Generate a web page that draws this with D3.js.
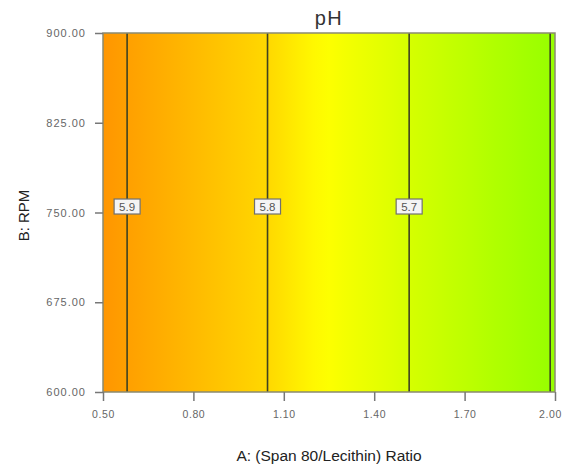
<!DOCTYPE html>
<html>
<head>
<meta charset="utf-8">
<script src="https://cdn.jsdelivr.net/npm/d3@7"></script>
<style>
  html, body { margin: 0; padding: 0; background: #fff; }
  svg { display: block; font-family: "Liberation Sans", Arial, sans-serif; }
</style>
</head>
<body>
<svg id="chart" width="566" height="469"></svg>
<script>
// Response surface contour of pH over ratio (A) and stirring speed (B)
const xTicks = [0.50, 0.80, 1.10, 1.40, 1.70, 2.00];
const yTicks = [600, 675, 750, 825, 900];
const contourLevels = [5.9, 5.8, 5.7, 5.6];
const contourA = [0.58, 1.046, 1.516, 1.984];
const labelled = [true, true, true, false];
const labelB = 755;
const colourLevels = [5.6, 5.7, 5.76, 5.8, 5.92];
const colourRange = ["#98ff00", "#d6ff00", "#ffff00", "#ffd800", "#ff9400"];

const W = 566, H = 469;
const m = { left: 103, right: 11, top: 33, bottom: 77 };
const svg = d3.select("#chart");

const x = d3.scaleLinear().domain([0.5, 2.0]).range([m.left, W - m.right]);
const y = d3.scaleLinear().domain([600, 900]).range([H - m.bottom, m.top]);
const pHatA = d3.scaleLinear().domain(contourA).range(contourLevels); // linear in A
const colour = d3.scaleLinear().domain(colourLevels).range(colourRange);

// horizontal colour gradient following the response
const defs = svg.append("defs");
const grad = defs.append("linearGradient")
  .attr("id", "phFill").attr("gradientUnits", "userSpaceOnUse")
  .attr("x1", x(0.5)).attr("x2", x(2.0)).attr("y1", 0).attr("y2", 0);
d3.range(0, 31).forEach(i => {
  const a = 0.5 + i * 0.05;
  grad.append("stop")
    .attr("offset", (i / 30))
    .attr("stop-color", colour(pHatA(a)));
});
defs.append("clipPath").attr("id", "plotClip")
  .append("rect")
  .attr("x", x(0.5)).attr("y", y(900))
  .attr("width", x(2.0) - x(0.5)).attr("height", y(600) - y(900));

svg.append("rect")
  .attr("x", x(0.5)).attr("y", y(900))
  .attr("width", x(2.0) - x(0.5)).attr("height", y(600) - y(900))
  .attr("fill", "url(#phFill)");

// contour lines
const plot = svg.append("g").attr("clip-path", "url(#plotClip)");
plot.selectAll("line.contour")
  .data(contourA)
  .join("line")
  .attr("class", "contour")
  .attr("x1", d => x(d)).attr("x2", d => x(d))
  .attr("y1", y(900)).attr("y2", y(600))
  .attr("stroke", "#3f4220").attr("stroke-width", 1.6);

// contour labels
const lab = plot.selectAll("g.lab")
  .data(contourLevels.map((v, i) => ({ v, a: contourA[i] })).filter((d, i) => labelled[i]))
  .join("g")
  .attr("class", "lab")
  .attr("transform", d => `translate(${x(d.a)},${y(labelB)})`);
lab.append("rect")
  .attr("x", -13).attr("y", -7.5).attr("width", 26).attr("height", 15)
  .attr("fill", "#f4f4f4").attr("stroke", "#707070").attr("stroke-width", 1.2);
lab.append("text")
  .attr("text-anchor", "middle").attr("dy", "0.36em")
  .attr("font-size", 11.5).attr("fill", "#555")
  .text(d => d.v.toFixed(1));

// plot frame
svg.append("rect")
  .attr("x", x(0.5)).attr("y", y(900))
  .attr("width", x(2.0) - x(0.5)).attr("height", y(600) - y(900))
  .attr("fill", "none").attr("stroke", "#8a8a70").attr("stroke-width", 1.5);

// axes
const xAxis = d3.axisBottom(x).tickValues(xTicks).tickFormat(d3.format(".2f"))
  .tickSize(9).tickSizeOuter(0);
const gx = svg.append("g").attr("transform", `translate(0,${y(600)})`).call(xAxis);
gx.select(".domain").remove();
gx.selectAll(".tick line").attr("stroke", "#777").attr("stroke-width", 1.5);
gx.selectAll(".tick text").attr("font-size", 10.5).attr("fill", "#666").attr("dy", "1.3em")
  .attr("letter-spacing", 0.6)
  .attr("font-family", "\"Liberation Sans\", Arial, sans-serif");
// keep the last tick label inside the window
gx.selectAll(".tick text").filter(d => d === d3.max(xTicks)).attr("dx", -5);

const yAxis = d3.axisLeft(y).tickValues(yTicks).tickFormat(d3.format(".2f"))
  .tickSize(8).tickSizeOuter(0);
const gy = svg.append("g").attr("transform", `translate(${x(0.5)},0)`).call(yAxis);
gy.select(".domain").remove();
gy.selectAll(".tick line").attr("stroke", "#777").attr("stroke-width", 1.5);
gy.selectAll(".tick text").attr("font-size", 11).attr("fill", "#666").attr("x", -17)
  .attr("letter-spacing", 1)
  .attr("font-family", "\"Liberation Sans\", Arial, sans-serif");

// titles
svg.append("text")
  .attr("x", (x(0.5) + x(2.0)) / 2).attr("y", 25)
  .attr("text-anchor", "middle").attr("font-size", 20).attr("fill", "#333")
  .attr("letter-spacing", 1.5)
  .text("pH");
svg.append("text")
  .attr("x", (x(0.5) + x(2.0)) / 2).attr("y", 461)
  .attr("text-anchor", "middle").attr("font-size", 15.5).attr("fill", "#222")
  .text("A: (Span 80/Lecithin) Ratio");
svg.append("text")
  .attr("transform", `translate(29,${(y(600) + y(900)) / 2 + 3}) rotate(-90)`)
  .attr("text-anchor", "middle").attr("font-size", 15).attr("fill", "#222")
  .text("B: RPM");
</script>
</body>
</html>
